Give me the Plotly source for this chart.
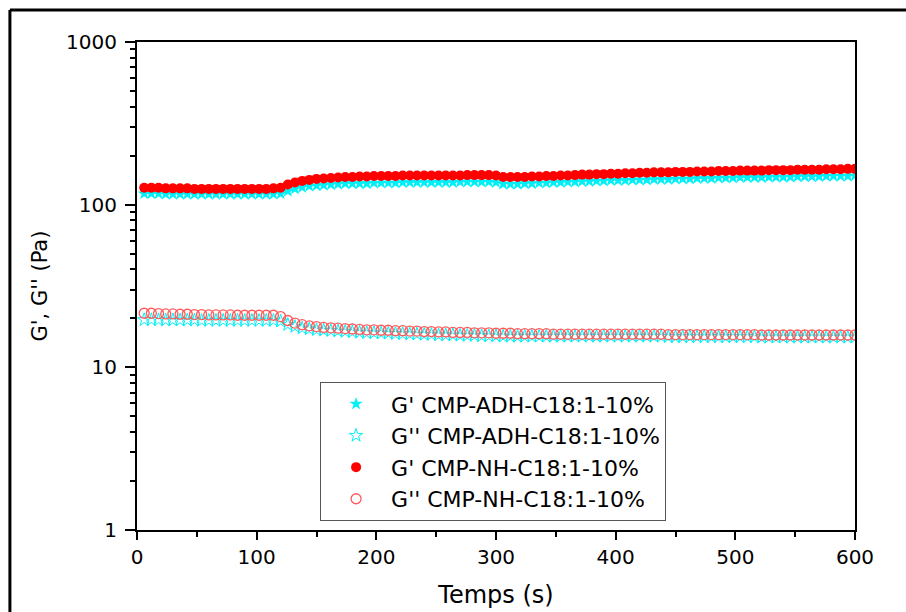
import plotly.graph_objects as go

# Time (s)
temps = [6 * i for i in range(1, 101)]

# G' CMP-NH-C18:1-10% (Pa)
gp_nh = [127, 127, 127, 126, 126, 126, 126, 125, 125, 125,
         125, 125, 125, 125, 125, 125, 125, 125, 126, 127,
         133, 137, 140, 142, 144, 145, 146, 147, 148, 148,
         149, 149, 150, 150, 150, 150, 151, 151, 151, 151,
         151, 151, 151, 151, 151, 152, 152, 152, 152, 151,
         148, 148, 148, 148, 149, 149, 150, 150, 151, 151,
         152, 153, 153, 154, 154, 155, 155, 156, 156, 157,
         157, 158, 158, 158, 159, 159, 159, 160, 160, 160,
         161, 161, 161, 162, 162, 162, 162, 163, 163, 163,
         163, 164, 164, 164, 164, 165, 165, 165, 166, 166]

# G' CMP-ADH-C18:1-10% (Pa)
gp_adh = [117, 117, 117, 116, 116, 116, 116, 116, 116, 116,
          116, 116, 116, 116, 116, 116, 116, 116, 116, 117,
          121, 125, 128, 130, 131, 132, 133, 134, 135, 135,
          135, 135, 136, 136, 136, 136, 137, 137, 137, 137,
          137, 137, 137, 137, 138, 138, 138, 138, 138, 137,
          134, 134, 134, 135, 135, 136, 136, 137, 137, 138,
          138, 139, 139, 140, 140, 141, 141, 141, 142, 142,
          142, 143, 143, 143, 144, 144, 144, 145, 145, 145,
          146, 146, 146, 147, 147, 147, 147, 148, 148, 148,
          148, 149, 149, 149, 149, 150, 150, 150, 150, 151]

# G'' CMP-NH-C18:1-10% (Pa)
gpp_nh = [21.5, 21.5, 21.4, 21.3, 21.3, 21.2, 21.2, 21.1, 21.1, 21.0,
          21.0, 21.0, 21.0, 20.9, 20.9, 20.9, 20.9, 20.9, 20.9, 20.5,
          19.4, 18.7, 18.3, 18.0, 17.8, 17.6, 17.5, 17.4, 17.3, 17.2,
          17.1, 17.0, 17.0, 16.9, 16.9, 16.8, 16.8, 16.7, 16.7, 16.6,
          16.6, 16.5, 16.5, 16.4, 16.4, 16.4, 16.3, 16.3, 16.3, 16.2,
          16.2, 16.2, 16.1, 16.1, 16.1, 16.1, 16.1, 16.0, 16.0, 16.0,
          16.0, 16.0, 16.0, 16.0, 16.0, 16.0, 16.0, 16.0, 16.0, 16.0,
          16.0, 16.0, 16.0, 15.9, 15.9, 15.9, 15.9, 15.9, 15.9, 15.9,
          15.9, 15.9, 15.9, 15.9, 15.9, 15.9, 15.8, 15.8, 15.8, 15.8,
          15.8, 15.8, 15.8, 15.8, 15.8, 15.8, 15.8, 15.8, 15.8, 15.8]

# G'' CMP-ADH-C18:1-10% (Pa)
gpp_adh = [19.6, 19.6, 19.6, 19.5, 19.5, 19.5, 19.5, 19.5, 19.4, 19.4,
           19.4, 19.4, 19.4, 19.4, 19.4, 19.4, 19.4, 19.4, 19.4, 19.2,
           18.3, 17.8, 17.4, 17.2, 17.0, 16.9, 16.8, 16.7, 16.6, 16.5,
           16.4, 16.3, 16.3, 16.2, 16.2, 16.1, 16.1, 16.0, 16.0, 15.9,
           15.9, 15.8, 15.8, 15.8, 15.7, 15.7, 15.7, 15.6, 15.6, 15.6,
           15.5, 15.5, 15.5, 15.5, 15.5, 15.5, 15.5, 15.5, 15.5, 15.5,
           15.5, 15.5, 15.5, 15.5, 15.5, 15.5, 15.5, 15.5, 15.5, 15.5,
           15.5, 15.5, 15.5, 15.4, 15.4, 15.4, 15.4, 15.4, 15.4, 15.4,
           15.4, 15.4, 15.4, 15.4, 15.4, 15.4, 15.3, 15.3, 15.3, 15.3,
           15.3, 15.3, 15.3, 15.3, 15.3, 15.3, 15.3, 15.3, 15.3, 15.3]

y_tickvals = [1, 10, 100, 1000]
y_ticktext = ["1", "10", "100", "1000"]
x_tickvals = [0, 100, 200, 300, 400, 500, 600]
x_minor_tickvals = [50, 150, 250, 350, 450, 550]

CYAN = "#00f0f8"
RED = "#ff0000"
RED_OPEN = "#ff5a5a"
FONT = "DejaVu Sans, Arial, sans-serif"

fig = go.Figure()
fig.add_trace(go.Scatter(x=temps, y=gp_adh, mode="markers",
                         name="G' CMP-ADH-C18:1-10%",
                         marker=dict(symbol="star", size=10, color=CYAN,
                                     line=dict(width=0))))
fig.add_trace(go.Scatter(x=temps, y=gpp_adh, mode="markers",
                         name="G'' CMP-ADH-C18:1-10%",
                         marker=dict(symbol="star-open", size=10, color=CYAN,
                                     line=dict(width=1, color=CYAN))))
fig.add_trace(go.Scatter(x=temps, y=gp_nh, mode="markers",
                         name="G' CMP-NH-C18:1-10%",
                         marker=dict(symbol="circle", size=10, color=RED,
                                     line=dict(width=0))))
fig.add_trace(go.Scatter(x=temps, y=gpp_nh, mode="markers",
                         name="G'' CMP-NH-C18:1-10%",
                         marker=dict(symbol="circle-open", size=10, color=RED_OPEN,
                                     line=dict(width=1.3, color=RED_OPEN))))

minor_vals = [m * 10 ** e for e in range(0, 3) for m in range(2, 10)]

fig.update_layout(
    width=906, height=612,
    margin=dict(l=137, r=51, t=42, b=82),
    paper_bgcolor="white", plot_bgcolor="white",
    font=dict(family=FONT, color="black", size=20),
    showlegend=True,
    legend=dict(x=0.255, y=0.303, xanchor="left", yanchor="top",
                bgcolor="white", bordercolor="#555555", borderwidth=1,
                font=dict(size=22, family=FONT), itemwidth=60,
                tracegroupgap=0),
    xaxis=dict(range=[0, 600], tickvals=x_tickvals, ticks="outside",
               ticklen=8, tickwidth=2, tickcolor="black",
               showline=True, linecolor="black", linewidth=2, mirror=True,
               showgrid=False, zeroline=False, automargin=False,
               tickfont=dict(size=20, family=FONT),
               minor=dict(tickvals=x_minor_tickvals, ticks="outside",
                          ticklen=5, tickwidth=2, tickcolor="black", showgrid=False),
               title=dict(text="Temps (s)", font=dict(size=24, family=FONT),
                          standoff=18)),
    yaxis=dict(type="log", range=[0, 3], tickvals=y_tickvals, ticktext=y_ticktext,
               ticks="outside", ticklen=10, tickwidth=2, tickcolor="black",
               showline=True, linecolor="black", linewidth=2, mirror=True,
               showgrid=False, zeroline=False, ticklabelstandoff=4,
               automargin=False,
               tickfont=dict(size=20, family=FONT),
               minor=dict(tickvals=minor_vals, ticks="outside", ticklen=5,
                          tickwidth=2, tickcolor="black", showgrid=False),
               title=dict(text="G', G'' (Pa)", font=dict(size=21, family=FONT),
                          standoff=13)),
    shapes=[
        dict(type="line", xref="paper", yref="paper", x0=-0.177, x1=1.2,
             y0=1.0656, y1=1.0656, line=dict(color="black", width=3)),
        dict(type="line", xref="paper", yref="paper", x0=-0.177, x1=-0.177,
             y0=1.0656, y1=-0.3, line=dict(color="black", width=3)),
    ],
)

fig.write_html(
    "out.html",
    config={"displayModeBar": False},
    post_script="document.body.style.margin='0';document.body.style.overflow='hidden';",
)
